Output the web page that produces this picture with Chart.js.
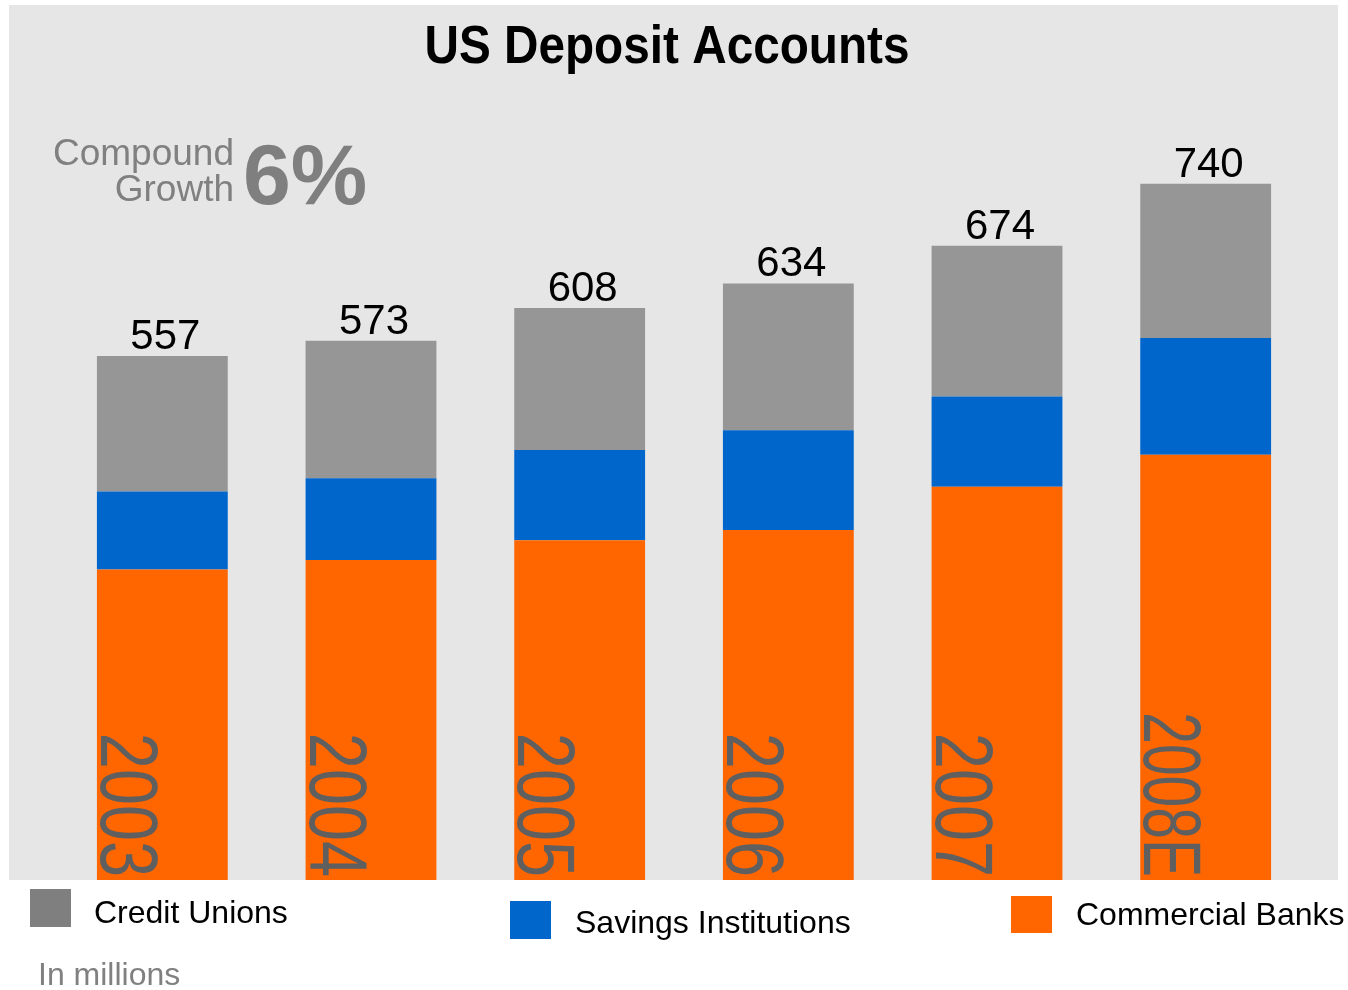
<!DOCTYPE html>
<html>
<head>
<meta charset="utf-8">
<script src="https://cdn.jsdelivr.net/npm/chart.js@4/dist/chart.umd.min.js"></script>
<style>
  html, body { margin: 0; padding: 0; background: #ffffff; }
  #wrap { width: 1348px; height: 990px; position: relative; }
</style>
</head>
<body>
<div id="wrap"><canvas id="c" width="1348" height="990"></canvas></div>
<script>
// ---- data ----
const years = ['2003', '2004', '2005', '2006', '2007', '2008E'];
const commercialBanks = [330, 340, 361, 372, 418, 452];
const savingsInstitutions = [83, 87, 96, 106, 96, 124];
const creditUnions = [144, 146, 151, 156, 160, 164];
const seriesNames = ['Commercial Banks', 'Savings Institutions', 'Credit Unions'];
const titleText = 'US Deposit Accounts';
const growthLines = ['Compound', 'Growth'];
const growthValue = '6%';
const unitNote = 'In millions';

const FONT = "'Liberation Sans', Arial, Helvetica, sans-serif";
const colors = { cb: '#FF6600', si: '#0066CC', cu: '#969696', cuLegend: '#7F7F7F' };

const decorPlugin = {
  id: 'decor',
  beforeDraw(chart) {
    const ctx = chart.ctx, ca = chart.chartArea;
    ctx.save();
    ctx.fillStyle = '#ffffff';
    ctx.fillRect(0, 0, chart.width, chart.height);
    ctx.fillStyle = '#E6E6E6';
    ctx.fillRect(9, 5, 1338 - 9, ca.bottom - 5);
    ctx.restore();
  },
  afterDatasetsDraw(chart) {
    const ctx = chart.ctx, ca = chart.chartArea;
    const metaBottom = chart.getDatasetMeta(0);
    const metaTop = chart.getDatasetMeta(chart.data.datasets.length - 1);
    // year labels inside bars, rotated
    ctx.save();
    ctx.beginPath();
    ctx.rect(ca.left - 60, ca.top, ca.right - ca.left + 120, ca.bottom - ca.top);
    ctx.clip();
    metaBottom.data.forEach((bar, i) => {
      const left = bar.x - bar.width / 2;
      ctx.save();
      ctx.translate(left + 4, ca.bottom - 3);
      ctx.rotate(Math.PI / 2);
      ctx.scale(0.8, 1);
      ctx.font = '81px ' + FONT;
      ctx.fillStyle = '#5F5F5F';
      ctx.textAlign = 'right';
      ctx.textBaseline = 'alphabetic';
      ctx.fillText(years[i], 0, 0, 206);
      ctx.restore();
    });
    ctx.restore();
    // totals
    ctx.save();
    ctx.font = '42px ' + FONT;
    ctx.fillStyle = '#000000';
    ctx.textAlign = 'center';
    ctx.textBaseline = 'alphabetic';
    metaTop.data.forEach((bar, i) => {
      const total = commercialBanks[i] + savingsInstitutions[i] + creditUnions[i];
      ctx.fillText(String(total), bar.x + 3, bar.y - 7);
    });
    ctx.restore();
  },
  afterDraw(chart) {
    const ctx = chart.ctx;
    ctx.save();
    // title
    ctx.save();
    ctx.translate(667, 63);
    ctx.scale(0.9, 1);
    ctx.font = 'bold 53px ' + FONT;
    ctx.fillStyle = '#000000';
    ctx.textAlign = 'center';
    ctx.textBaseline = 'alphabetic';
    ctx.fillText(titleText, 0, 0);
    ctx.restore();
    // compound growth
    ctx.font = '37px ' + FONT;
    ctx.fillStyle = '#808080';
    ctx.textAlign = 'right';
    ctx.fillText(growthLines[0], 234, 165);
    ctx.fillText(growthLines[1], 234, 201);
    ctx.font = 'bold 86px ' + FONT;
    ctx.fillStyle = '#7F7F7F';
    ctx.textAlign = 'left';
    ctx.fillText(growthValue, 243, 204);
    // legend
    const items = [
      { name: seriesNames[2], color: colors.cuLegend, box: [30, 889, 41, 38], tx: 94, ty: 923 },
      { name: seriesNames[1], color: colors.si, box: [510, 901, 41, 38], tx: 575, ty: 933 },
      { name: seriesNames[0], color: colors.cb, box: [1011, 896, 41, 37], tx: 1076, ty: 925 }
    ];
    ctx.font = '32px ' + FONT;
    items.forEach(it => {
      ctx.fillStyle = it.color;
      ctx.fillRect(it.box[0], it.box[1], it.box[2], it.box[3]);
      ctx.fillStyle = '#000000';
      ctx.textAlign = 'left';
      ctx.fillText(it.name, it.tx, it.ty);
    });
    // unit note
    ctx.font = '32px ' + FONT;
    ctx.fillStyle = '#808080';
    ctx.fillText(unitNote, 38, 985);
    ctx.restore();
  }
};

new Chart(document.getElementById('c'), {
  type: 'bar',
  data: {
    labels: years,
    datasets: [
      { label: seriesNames[0], data: commercialBanks, backgroundColor: colors.cb },
      { label: seriesNames[1], data: savingsInstitutions, backgroundColor: colors.si },
      { label: seriesNames[2], data: creditUnions, backgroundColor: colors.cu }
    ]
  },
  options: {
    responsive: false,
    animation: false,
    devicePixelRatio: 1,
    layout: { padding: { left: 58, right: 38, top: 100, bottom: 110 } },
    datasets: { bar: { barPercentage: 0.627, categoryPercentage: 1, borderWidth: 0 } },
    scales: {
      x: { stacked: true, display: false, grid: { display: false } },
      y: { stacked: true, display: false, min: 0, max: 829, grid: { display: false } }
    },
    plugins: {
      legend: { display: false },
      title: { display: false },
      tooltip: { enabled: false }
    }
  },
  plugins: [decorPlugin]
});
</script>
</body>
</html>
